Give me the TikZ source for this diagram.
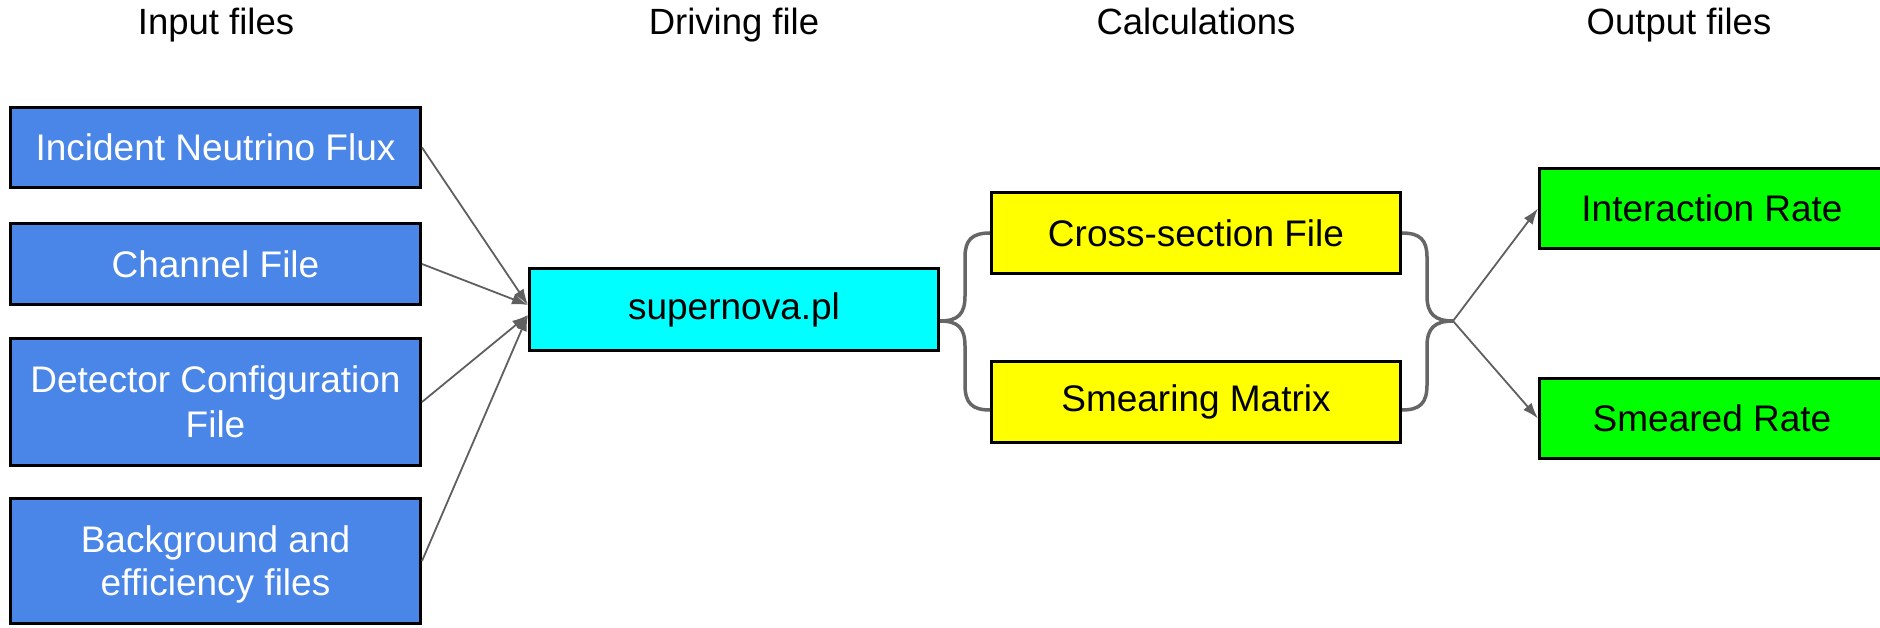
\documentclass[tikz,border=0pt]{standalone}
\usepackage{fontspec}
\setmainfont{Liberation Sans}
\usetikzlibrary{arrows.meta}
\definecolor{inblue}{HTML}{4A86E8}
\definecolor{cyanbox}{HTML}{00FFFF}
\definecolor{yelbox}{HTML}{FFFF00}
\definecolor{grnbox}{HTML}{00FF00}
\definecolor{linegray}{HTML}{5F5F5F}
\definecolor{bracegray}{HTML}{666666}
\tikzset{
  box/.style={draw=black, line width=3pt, rectangle, inner sep=0pt, align=center,
    font=\fontsize{37}{45}\selectfont},
  inbox/.style={box, fill=inblue, text=white, minimum width=410pt},
  cybox/.style={box, fill=cyanbox, minimum width=409pt, minimum height=82pt},
  ybox/.style={box, fill=yelbox, minimum width=409pt, minimum height=81pt},
  gbox/.style={box, fill=grnbox, minimum width=345pt, minimum height=80pt},
  header/.style={anchor=base, font=\fontsize{36.5}{43}\selectfont},
  conn/.style={draw=linegray, line width=1.8pt, -{Latex[length=16pt,width=11pt]}},
  bracepath/.style={draw=bracegray, line width=3.5pt}
}
\begin{document}
\begin{tikzpicture}[x=1pt,y=-1pt]
\useasboundingbox (0,0) rectangle (1880,628);
% headers
\node[header] (h1) at (216,35) {Input files};
\node[header] (h2) at (734,35) {Driving file};
\node[header] (h3) at (1196,35) {Calculations};
\node[header] (h4) at (1679,35) {Output files};
% input boxes
\node[inbox, minimum height=80pt] (b1) at (215.5,147.5) {Incident Neutrino Flux};
\node[inbox, minimum height=81pt] (b2) at (215.5,264) {Channel File};
\node[inbox, minimum height=127pt] (b3) at (215.5,402) {Detector Configuration\\File};
\node[inbox, minimum height=125pt, font=\fontsize{37}{43}\selectfont, text depth=0pt] (b4) at (215.5,561) {Background and\\efficiency files};
% driving
\node[cybox] (cy) at (734,309.5) {supernova.pl};
% calculations
\node[ybox] (y1) at (1196,233) {Cross-section File};
\node[ybox] (y2) at (1196,402) {Smearing Matrix};
% outputs
\node[gbox] (g1) at (1712,208.5) {Interaction Rate};
\node[gbox] (g2) at (1712,418.5) {Smeared Rate};
% input arrows
\draw[conn] (b1.east) -- ([yshift=4.5pt]cy.west);
\draw[conn] (b2.east) -- ([yshift=4.5pt]cy.west);
\draw[conn] (b3.east) -- ([yshift=-5.5pt]cy.west);
\draw[conn] (b4.east) -- ([yshift=-5.5pt]cy.west);
% brace tips and lower ends
\coordinate (lt) at (940,321);
\coordinate (rt) at (1453,321);
\coordinate (y2l) at (990,410);
\coordinate (y2r) at (1402,410);
% left brace
\path[bracepath] (lt) .. controls (958,321) and (965,328) .. (965,346) -- (965,385)
   .. controls (965,403) and (972,410) .. (y2l);
\path[bracepath] (lt) .. controls (958,321) and (965,314) .. (965,296) -- (965,257)
   .. controls (965,240) and (972,233) .. (y1.west);
% right brace
\path[bracepath] (y1.east) .. controls (1420,233) and (1427,240) .. (1427,257) -- (1427,296)
   .. controls (1427,314) and (1435,321) .. (rt);
\path[bracepath] (y2r) .. controls (1420,410) and (1427,403) .. (1427,385) -- (1427,346)
   .. controls (1427,328) and (1435,321) .. (rt);
% output arrows
\draw[conn] (rt) -- (g1.west);
\draw[conn] (rt) -- (g2.west);
\end{tikzpicture}
\end{document}
